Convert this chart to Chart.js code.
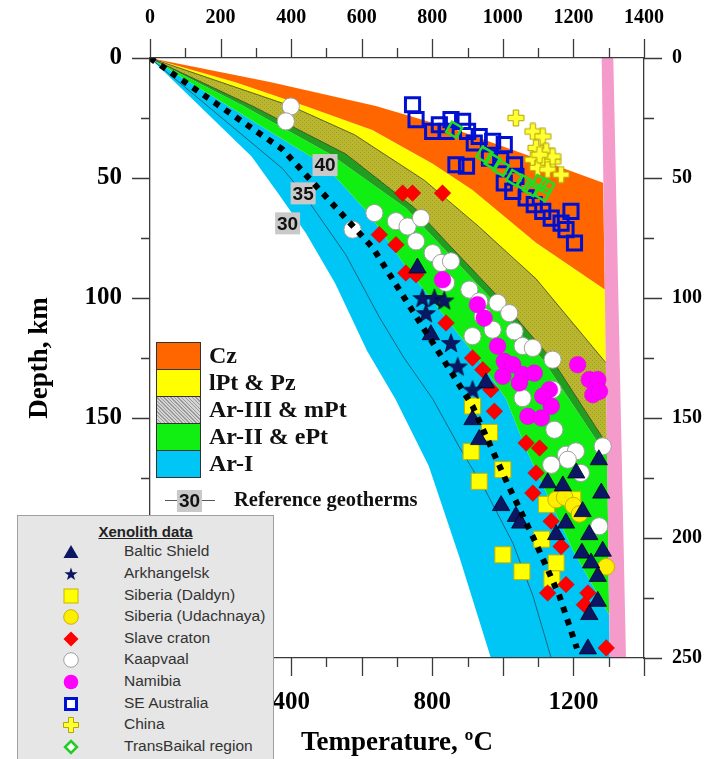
<!DOCTYPE html>
<html>
<head>
<meta charset="utf-8">
<script src="https://cdn.jsdelivr.net/npm/chart.js@4/dist/chart.umd.min.js"></script>
<style>
html,body{margin:0;padding:0;background:#fff;}
#wrap{position:relative;width:709px;height:759px;overflow:hidden;}
#chart{position:absolute;left:0;top:0;}
.sw{position:absolute;left:156px;width:45px;height:28px;box-sizing:border-box;border:1.5px solid #333;}
.bl{position:absolute;left:209px;height:28px;line-height:28px;font:bold 24px 'Liberation Serif',serif;color:#111;white-space:nowrap;}
#refLine{position:absolute;left:165px;top:500px;width:50px;height:1px;background:#555;}
#refBox{position:absolute;left:177px;top:490px;width:25px;height:22px;background:#c9c9c9;font:bold 19px 'Liberation Sans',sans-serif;color:#111;text-align:center;line-height:22px;}
#refText{position:absolute;left:234px;top:488px;height:24px;line-height:24px;font:bold 20.5px 'Liberation Serif',serif;color:#111;white-space:nowrap;}
#xeno{position:absolute;left:17px;top:515px;width:257px;height:250px;background:#e6e6e6;border:1px solid #a0a0a0;box-sizing:border-box;}
#xeno .t{position:absolute;left:0;width:255px;top:7px;height:20px;line-height:20px;text-align:center;font:bold 15px 'Liberation Sans',sans-serif;text-decoration:underline;color:#222;}
.xi{position:absolute;left:106px;height:20px;line-height:20px;font:15.5px 'Liberation Sans',sans-serif;color:#333;white-space:nowrap;}
.xm{position:absolute;left:43px;width:20px;height:20px;}
</style>
</head>
<body>
<div id="wrap">
<canvas id="chart" width="709" height="759"></canvas>
<div id="bandLegend"></div>
<div id="refLine"></div><div id="refBox">30</div><div id="refText">Reference geotherms</div>
<div id="xeno"><div class="t">Xenolith data</div></div>
</div>
<script>
// ---------- axes ----------
const tempTopLabels = [0, 200, 400, 600, 800, 1000, 1200, 1400];
const tempBottomLabels = [0, 400, 800, 1200];
const depthLabels = [0, 50, 100, 150, 200, 250];
const TEMP_MAX = 1400, DEPTH_MAX = 250;

// ---------- mantle adiabat (right edge of the geotherm family) and pink band ----------
const adiabatDepth = [0, 250];
const adiabatT = [1280, 1303];
const adiabatOuterT = [1313, 1349];

// ---------- geotherm family boundaries: depth (km) / temperature (°C) ----------
const czTopZ = [0, 10, 20, 30, 40, 52];
const czTopT = [0, 340, 640, 870, 1060, 1284];
const czBaseZ = [0, 10, 20, 30, 44, 55, 77, 96.5];
const czBaseT = [0, 240, 440, 630, 800, 914, 1094, 1289];
const pzBaseZ = [0, 20, 32, 51, 70, 92, 127];
const pzBaseT = [0, 399, 580, 778, 930, 1094, 1292];
const ar3BaseZ = [0, 20, 40, 62.5, 79, 100, 126, 161];
const ar3BaseT = [0, 290, 555, 750, 855, 990, 1141, 1295];
const ar3StripZ = [0, 20, 40, 62.5, 79, 100, 126, 166];
const ar3StripT = [0, 265, 510, 725, 830, 965, 1115, 1296];
const geo40Z = [0, 44.5, 65, 87, 126, 142, 163, 184, 205, 232];
const geo40T = [0, 494, 621, 725, 933, 1009, 1066, 1132, 1198, 1301];
const geo35Z = [0, 46, 56, 82, 108, 125, 142, 163, 180, 202, 224, 250];
const geo35T = [0, 375, 432, 555, 650, 720, 801, 880, 950, 1028, 1085, 1137];
const geo30Z = [0, 41, 57, 73, 94, 122, 142, 170, 208, 250];
const geo30T = [0, 288, 366, 442, 525, 615, 695, 790, 877, 966];
const dottedZ = [0, 38, 79, 123, 145, 177, 201, 224, 246];
const dottedT = [0, 375, 631, 820, 914, 1012, 1090, 1160, 1210];

// reference geotherm labels
const geoLabelText = ['40', '35', '30'];
const geoLabelT = [496, 434, 390];
const geoLabelZ = [44.6, 56.4, 68.9];

// ---------- xenolith data: temperature (°C) / depth (km) ----------
const balticT = [758, 796, 952, 914, 933, 1127, 1170, 1208, 1272, 1279, 995, 1037, 1049, 1151, 1179, 1226, 1245, 1283, 1224, 1250, 1269, 1269, 1245, 1241];
const balticZ = [87.5, 115.3, 135.4, 150.7, 159, 177, 178.3, 172.9, 167.4, 181.3, 186.5, 191, 193.8, 198.6, 193.8, 189, 198.6, 205.5, 206.3, 210.4, 216, 226.4, 231.9, 246.2];
const arkhT = [772, 806, 834, 782, 853, 872, 914];
const arkhZ = [100, 100, 101, 106.3, 118.7, 128.5, 138.2];
const daldynT = [914, 962, 910, 1000, 933, 1000, 1054, 1110, 1151, 1139, 1124, 1198];
const daldynZ = [145, 156, 164, 171.5, 176.4, 207, 214, 200.5, 210.4, 217, 186, 184];
const udachT = [1151, 1175, 1200, 1217, 1293];
const udachZ = [184, 183, 186.5, 190, 212];
const slaveT = [716, 744, 829, 650, 697, 725, 754, 839, 914, 943, 966, 976, 1066, 1104, 1094, 1085, 1137, 1165, 1179, 1127, 1241, 1231, 1293];
const slaveZ = [56.3, 56.3, 56.3, 73.6, 77.8, 89.6, 90.3, 110.4, 125, 129.9, 138.2, 147.2, 160.4, 162.5, 172.9, 181.3, 193, 203.5, 219.4, 222.9, 222.9, 227.8, 245.8];
const kaapT = [399, 385, 636, 574, 697, 730, 768, 754, 801, 825, 853, 839, 905, 933, 985, 1018, 943, 914, 971, 1033, 1056, 1085, 1141, 1056, 1141, 1146, 1179, 1207, 1137, 1221, 1283, 1273, 1184];
const kaapZ = [20.2, 26.4, 64.6, 71.5, 68, 70.2, 66.7, 76.4, 81.3, 85.4, 84.7, 93.7, 96.5, 101.4, 102, 106.3, 107.6, 115.9, 113.2, 113.9, 120, 120.8, 125.7, 141.7, 138.2, 154.9, 165.3, 163.9, 169.5, 172.9, 161.8, 195.1, 167.4];
const namT = [829, 928, 947, 985, 1004, 1028, 1056, 1089, 1000, 1047, 1132, 1113, 1137, 1071, 1109, 1212, 1245, 1269, 1255, 1274];
const namZ = [92.4, 102.8, 108.4, 120.1, 126.4, 127.8, 131.9, 131.3, 132.6, 135.4, 138.2, 140.9, 145.1, 149.3, 150, 127.8, 134, 134, 140.3, 138.9];
const seAusT = [744, 754, 820, 853, 886, 801, 839, 900, 933, 867, 897, 919, 971, 1004, 962, 994, 1033, 1037, 1004, 1028, 1066, 1089, 1113, 1137, 1165, 1193, 1203, 1179];
const seAusZ = [19.5, 25.7, 27.8, 25.7, 26.4, 30.6, 30.6, 30.6, 32.7, 44.5, 45.1, 35.4, 34.7, 36.1, 41.7, 42.4, 44.5, 49.3, 52.1, 55.6, 58.3, 61.1, 63.9, 66.7, 68.8, 63.9, 77.1, 71.5];
const chinaT = [1037, 1085, 1113, 1094, 1123, 1085, 1113, 1141, 1099, 1127, 1165, 1141, 1104];
const chinaZ = [25, 30.6, 32.7, 37.5, 38.9, 42.4, 43.8, 43.1, 45.8, 46.5, 48.6, 41, 40.3];
const transT = [862, 948, 971, 995, 1033, 1061, 1080, 1113, 1104, 1123];
const transZ = [29.9, 40.3, 43.1, 45.8, 50, 52.1, 54.2, 56.3, 52.1, 53.5];

const bandNames = ['Cz', 'lPt & Pz', 'Ar-III & mPt', 'Ar-II & ePt', 'Ar-I'];
const xenoNames = ['Baltic Shield', 'Arkhangelsk', 'Siberia (Daldyn)', 'Siberia (Udachnaya)', 'Slave craton', 'Kaapvaal', 'Namibia', 'SE Australia', 'China', 'TransBaikal region'];

// ---------- colours ----------
const C = {orange:'#ff6600', yellow:'#ffff00', dkgreen:'#1f9e1f', green:'#11ee11', cyan:'#00c6f6', pink:'#f59bcb', navy:'#0b1763'};

// ---------- helpers ----------
function pts(T, Z) { return T.map((t, i) => ({x: t, y: Z[i]})); }
function closeShape(poly) { return [...poly, poly[0], {x: TEMP_MAX, y: poly[0].y}]; }
function band(upT, upZ, loT, loZ) {
  const up = pts(upT, upZ), lo = pts(loT, loZ);
  const path = [...up];
  const loEnd = lo[lo.length - 1];
  if (loEnd.y >= DEPTH_MAX && loEnd.x < adiabatT[1] - 1) path.push({x: adiabatT[1], y: DEPTH_MAX});
  path.push(...lo.slice().reverse().slice(0, -1));
  return closeShape(path);
}
function shapeDs(data, color) {
  return {data, backgroundColor: color, borderWidth: 0, pointRadius: 0, fill: 'shape', xAxisID: 'x', yAxisID: 'y'};
}
function lineDs(T, Z, color, width, dash) {
  return {data: pts(T, Z), borderColor: color, borderWidth: width, borderDash: dash || [], borderCapStyle: 'butt', pointRadius: 0, fill: false, xAxisID: 'x', yAxisID: 'y'};
}
function markerDs(T, Z, style) {
  return Object.assign({data: pts(T, Z), showLine: false, fill: false, xAxisID: 'x', yAxisID: 'y'}, style);
}
function starImage(r, color) {
  const s = Math.ceil(r * 2 + 2), c = document.createElement('canvas');
  c.width = c.height = s;
  const g = c.getContext('2d');
  g.translate(s / 2, s / 2 + 0.8);
  g.beginPath();
  for (let i = 0; i < 10; i++) {
    const rad = i % 2 ? r * 0.42 : r, a = -Math.PI / 2 + i * Math.PI / 5;
    g.lineTo(rad * Math.cos(a), rad * Math.sin(a));
  }
  g.closePath(); g.fillStyle = color; g.fill();
  g.strokeStyle = '#000022'; g.lineWidth = 0.6; g.stroke();
  return c;
}
function plusImage(size) {
  const c = document.createElement('canvas');
  c.width = c.height = size + 2;
  const g = c.getContext('2d');
  const s = size, w = s * 0.34, o = 1, m = (s - w) / 2;
  g.beginPath();
  g.moveTo(o + m, o); g.lineTo(o + m + w, o); g.lineTo(o + m + w, o + m); g.lineTo(o + s, o + m);
  g.lineTo(o + s, o + m + w); g.lineTo(o + m + w, o + m + w); g.lineTo(o + m + w, o + s); g.lineTo(o + m, o + s);
  g.lineTo(o + m, o + m + w); g.lineTo(o, o + m + w); g.lineTo(o, o + m); g.lineTo(o + m, o + m);
  g.closePath(); g.fillStyle = '#ffff33'; g.fill();
  g.strokeStyle = '#b5a500'; g.lineWidth = 1; g.stroke();
  return c;
}
function hatchPattern(base, dot) {
  const c = document.createElement('canvas');
  c.width = c.height = 4;
  const g = c.getContext('2d');
  g.fillStyle = base; g.fillRect(0, 0, 4, 4);
  g.fillStyle = dot;
  g.fillRect(0, 0, 1, 1); g.fillRect(2, 2, 1, 1);
  return g.createPattern(c, 'repeat');
}

// ---------- datasets (first = drawn on top) ----------
const datasets = [
  lineDs(dottedT, dottedZ, '#000', 6, [6, 7]),
  markerDs(transT, transZ, {pointStyle: 'rect', rotation: 30, pointRadius: 8.3, backgroundColor: 'rgba(0,0,0,0)', borderColor: '#22dd22', pointBorderWidth: 2.5}),
  markerDs(chinaT, chinaZ, {pointStyle: plusImage(16), pointRadius: 8}),
  markerDs(seAusT, seAusZ, {pointStyle: 'rect', pointRadius: 10, backgroundColor: 'rgba(0,0,0,0)', borderColor: '#0010d0', pointBorderWidth: 3}),
  markerDs(arkhT, arkhZ, {pointStyle: starImage(10, C.navy), pointRadius: 10}),
  markerDs(balticT, balticZ, {pointStyle: 'triangle', pointRadius: 10, backgroundColor: C.navy, borderColor: '#000022', pointBorderWidth: 0.8}),
  markerDs(slaveT, slaveZ, {pointStyle: 'rectRot', pointRadius: 8.3, backgroundColor: '#ff0000', borderColor: '#d00000', pointBorderWidth: 0.5}),
  markerDs(namT, namZ, {pointStyle: 'circle', pointRadius: 8.3, backgroundColor: '#ff00ff', borderColor: '#dd00dd', pointBorderWidth: 0.5}),
  markerDs(kaapT, kaapZ, {pointStyle: 'circle', pointRadius: 8.6, backgroundColor: '#ffffff', borderColor: '#a0a0a0', pointBorderWidth: 1}),
  markerDs(udachT, udachZ, {pointStyle: 'circle', pointRadius: 8.3, backgroundColor: '#ffee00', borderColor: '#c8b400', pointBorderWidth: 1}),
  markerDs(daldynT, daldynZ, {pointStyle: 'rect', pointRadius: 11.3, backgroundColor: '#ffff00', borderColor: '#c8b400', pointBorderWidth: 1}),
  shapeDs(closeShape([{x: adiabatT[0], y: adiabatDepth[0]}, {x: adiabatOuterT[0], y: adiabatDepth[0]}, {x: adiabatOuterT[1], y: adiabatDepth[1]}, {x: adiabatT[1], y: adiabatDepth[1]}]), C.pink),
  lineDs(geo35T, geo35Z, '#2a4a5a', 0.8),
  lineDs(pzBaseT, pzBaseZ, '#3a3a20', 0.8),
  lineDs(ar3BaseT, ar3BaseZ, '#2a3a10', 0.8),
  shapeDs(band(czTopT, czTopZ, czBaseT, czBaseZ), C.orange),
  shapeDs(band(czBaseT, czBaseZ, pzBaseT, pzBaseZ), C.yellow),
  shapeDs(band(pzBaseT, pzBaseZ, ar3BaseT, ar3BaseZ), hatchPattern('#bab72e', '#9c9a30')),
  shapeDs(band(ar3BaseT, ar3BaseZ, ar3StripT, ar3StripZ), C.dkgreen),
  shapeDs(band(ar3StripT, ar3StripZ, geo40T, geo40Z), C.green),
  shapeDs(band(geo40T, geo40Z, geo30T, geo30Z), C.cyan)
];

// ---------- plugins ----------
const TICK_STEP_T = 100, TICK_STEP_Z = 25;
const tickPlugin = {
  id: 'ticks',
  afterDraw(chart) {
    const {ctx, chartArea: a, scales} = chart;
    ctx.save();
    ctx.strokeStyle = '#3a3a3a'; ctx.lineWidth = 1.3;
    ctx.beginPath();
    for (let v = 0; v <= TEMP_MAX; v += TICK_STEP_T) {
      const major = v % (2 * TICK_STEP_T) === 0;
      const px = Math.round(scales.x.getPixelForValue(v)) + 0.5;
      ctx.moveTo(px, a.top); ctx.lineTo(px, a.top - (major ? 19 : 10));
      const pb = Math.round(scales.x2.getPixelForValue(v)) + 0.5;
      ctx.moveTo(pb, a.bottom); ctx.lineTo(pb, a.bottom + (major ? 18 : 9));
    }
    for (let v = 0; v <= DEPTH_MAX; v += TICK_STEP_Z) {
      const major = v % (2 * TICK_STEP_Z) === 0;
      const py = Math.round(scales.y.getPixelForValue(v)) + 0.5;
      ctx.moveTo(a.left, py); ctx.lineTo(a.left - (major ? 18 : 9), py);
      const pr = Math.round(scales.y2.getPixelForValue(v)) + 0.5;
      ctx.moveTo(a.right, pr); ctx.lineTo(a.right + (major ? 18 : 10), pr);
    }
    ctx.stroke();
    ctx.restore();
  }
};
const geoLabelPlugin = {
  id: 'geoLabels',
  beforeDatasetDraw(chart, args) {
    if (args.index !== 0) return;
    const {ctx, scales: {x, y}} = chart;
    ctx.save();
    ctx.font = 'bold 19px "Liberation Sans"';
    ctx.textAlign = 'center'; ctx.textBaseline = 'middle';
    geoLabelText.forEach((t, i) => {
      const px = x.getPixelForValue(geoLabelT[i]), py = y.getPixelForValue(geoLabelZ[i]);
      ctx.fillStyle = '#c9c9c9'; ctx.fillRect(px - 12.5, py - 11, 25, 22);
      ctx.fillStyle = '#111'; ctx.fillText(t, px, py + 1);
    });
    ctx.restore();
  }
};

const serifBold = size => ({family: 'Liberation Serif', weight: 'bold', size});
const border = {display: true, color: '#3a3a3a', width: 1.3, z: 1};
const noGrid = {display: false, drawTicks: false};

new Chart(document.getElementById('chart'), {
  type: 'line',
  data: {datasets},
  options: {
    responsive: false, animation: false, events: [], devicePixelRatio: 1,
    layout: {padding: 0},
    plugins: {legend: {display: false}, tooltip: {enabled: false}},
    scales: {
      x: {type: 'linear', position: 'top', min: 0, max: TEMP_MAX, afterFit: s => { s.height = 58; },
        grid: noGrid, border,
        ticks: {stepSize: 200, autoSkip: false, maxRotation: 0, padding: 28, color: '#000', font: serifBold(20),
          callback: v => tempTopLabels.includes(v) ? String(v) : ''}},
      x2: {type: 'linear', position: 'bottom', min: 0, max: TEMP_MAX, afterFit: s => { s.height = 101; },
        grid: noGrid, border,
        ticks: {stepSize: 200, autoSkip: false, maxRotation: 0, padding: 30, color: '#000', font: serifBold(25),
          callback: v => tempBottomLabels.includes(v) ? String(v) : ''},
        title: {display: true, text: 'Temperature, ºC', color: '#000', font: serifBold(27), padding: {top: 0, bottom: 0}}},
      y: {type: 'linear', position: 'left', reverse: true, min: 0, max: DEPTH_MAX, afterFit: s => { s.width = 150; },
        grid: noGrid, border,
        ticks: {stepSize: 50, autoSkip: false, padding: 28, color: '#000', font: serifBold(25),
          callback: v => depthLabels.includes(v) ? String(v) : ''},
        title: {display: true, text: 'Depth, km', color: '#000', font: serifBold(27), padding: {top: 24, bottom: 0}}},
      y2: {type: 'linear', position: 'right', reverse: true, min: 0, max: DEPTH_MAX, afterFit: s => { s.width = 65; },
        grid: noGrid, border,
        ticks: {stepSize: 50, autoSkip: false, padding: 28, color: '#000', font: serifBold(20),
          callback: v => depthLabels.includes(v) ? String(v) : ''}}
    }
  },
  plugins: [tickPlugin, geoLabelPlugin]
});

// ---------- legends (HTML) ----------
const bandColors = [C.orange, C.yellow, 'repeating-linear-gradient(45deg,#9a9a9a 0 1px,#d4d4d4 1px 2.5px)', C.green, C.cyan];
const bandTops = [342, 369, 396, 423, 450];
const bl = document.getElementById('bandLegend');
bandNames.forEach((n, i) => {
  const s = document.createElement('div'); s.className = 'sw';
  s.style.top = bandTops[i] + 'px'; s.style.background = bandColors[i];
  bl.appendChild(s);
  const t = document.createElement('div'); t.className = 'bl';
  t.style.top = bandTops[i] + 'px'; t.textContent = n;
  bl.appendChild(t);
});

const svgMarkers = [
  '<polygon points="10,3 17.5,16 2.5,16" fill="#0b1763"/>',
  '<polygon points="10,3.5 11.6,8.2 16.6,8.3 12.6,11.3 14.1,16.1 10,13.2 5.9,16.1 7.4,11.3 3.4,8.3 8.4,8.2" fill="#0b1763"/>',
  '<rect x="3" y="3" width="14" height="14" fill="#ffff00" stroke="#c8b400"/>',
  '<circle cx="10" cy="10" r="7.3" fill="#ffee00" stroke="#c8b400"/>',
  '<polygon points="10,2.5 17.5,10 10,17.5 2.5,10" fill="#ff0000"/>',
  '<circle cx="10" cy="10" r="7.3" fill="#ffffff" stroke="#a0a0a0"/>',
  '<circle cx="10" cy="10" r="7.3" fill="#ff00ff"/>',
  '<rect x="4.5" y="4.5" width="11" height="11" fill="#ffffff" stroke="#0010d0" stroke-width="3"/>',
  '<path d="M7.5 2.5h5v5h5v5h-5v5h-5v-5h-5v-5h5z" fill="#ffff33" stroke="#b5a500"/>',
  '<polygon points="10,4 16,10 10,16 4,10" fill="#ffffff" stroke="#22cc22" stroke-width="2.5"/>'
];
const xeno = document.getElementById('xeno');
xenoNames.forEach((n, i) => {
  const top = 26.3 + 21.6 * i;
  const m = document.createElement('div'); m.className = 'xm'; m.style.top = top + 'px';
  m.innerHTML = '<svg width="20" height="20" viewBox="0 0 20 20">' + svgMarkers[i] + '</svg>';
  xeno.appendChild(m);
  const t = document.createElement('div'); t.className = 'xi'; t.style.top = top + 'px'; t.textContent = n;
  xeno.appendChild(t);
});
</script>
</body>
</html>
